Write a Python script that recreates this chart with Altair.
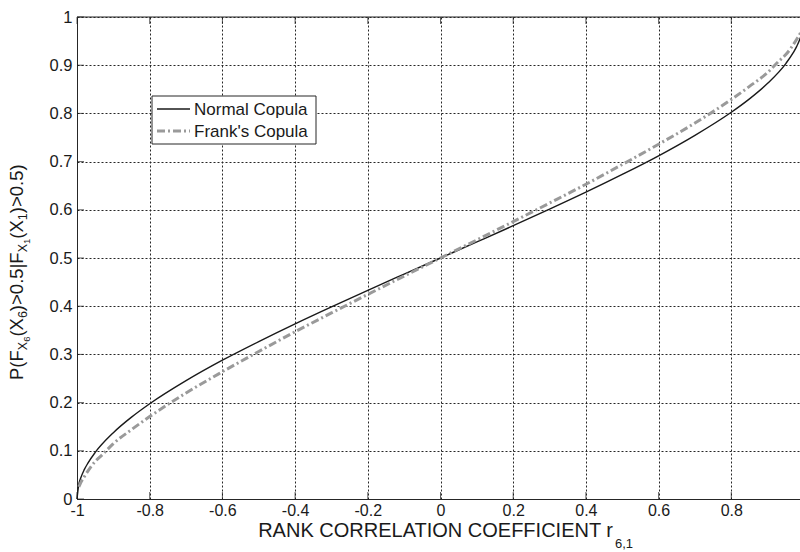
import altair as alt
import pandas as pd

# Axis tick values
x_ticks = [-1, -0.8, -0.6, -0.4, -0.2, 0, 0.2, 0.4, 0.6, 0.8, 1]
y_ticks = [0, 0.1, 0.2, 0.3, 0.4, 0.5, 0.6, 0.7, 0.8, 0.9, 1]

# Normal copula: rank correlation r(6,1) vs P(F(X6)>0.5 | F(X1)>0.5)
normal_r = [-1.0, -0.995, -0.99, -0.98, -0.97, -0.95, -0.9, -0.85, -0.8, -0.7, -0.6,
            -0.5, -0.4, -0.3, -0.2, -0.1, 0.0, 0.1, 0.2, 0.3, 0.4, 0.5, 0.6, 0.7,
            0.8, 0.85, 0.9, 0.95, 0.97, 0.98, 0.99, 0.995, 1.0]
normal_p = [0.0, 0.0303, 0.0431, 0.0609, 0.0745, 0.0966, 0.1376, 0.1698, 0.1976, 0.2455, 0.2880,
            0.3267, 0.3635, 0.3987, 0.4330, 0.4666, 0.5, 0.5334, 0.5670, 0.6013, 0.6365, 0.6733, 0.7120, 0.7545,
            0.8024, 0.8302, 0.8624, 0.9034, 0.9255, 0.9391, 0.9569, 0.9697, 1.0]

# Frank's copula
frank_r = [-0.995, -0.99, -0.98, -0.95, -0.93, -0.9, -0.85, -0.8, -0.7, -0.6, -0.5,
           -0.4, -0.3, -0.2, -0.1, 0.0, 0.1, 0.2, 0.3, 0.4, 0.5, 0.6, 0.7, 0.8,
           0.85, 0.9, 0.93, 0.95, 0.98, 0.99, 0.995]
frank_p = [0.025, 0.0335, 0.0462, 0.078, 0.0922, 0.115, 0.144, 0.171, 0.220, 0.264, 0.306,
           0.347, 0.386, 0.4245, 0.4625, 0.5, 0.5375, 0.5755, 0.614, 0.653, 0.694, 0.736, 0.780, 0.829,
           0.856, 0.885, 0.9078, 0.922, 0.9538, 0.9665, 0.975]

series_names = ["Normal Copula", "Frank's Copula"]

FONT = "Liberation Sans"
INK = "#1a1a1a"
FRANK_GRAY = "#9a9a9a"
W, H = 723, 482
X_RANGE = 727  # x scale runs a little past the right edge of the view

xs = alt.Scale(domain=[-1, 1], range=[0, X_RANGE], nice=False, zero=False)
ys = alt.Scale(domain=[0, 1], nice=False, zero=False)

x_axis = alt.Axis(values=x_ticks, labelExpr="datum.value + ''", grid=True, gridDash=[2, 2],
                  gridColor="#262626", gridWidth=1, tickSize=0, labelPadding=3,
                  labelFontSize=16, labelFont=FONT, labelColor=INK, domainColor="#262626",
                  title=None, labelFlush=False, labelOverlap=False)
y_axis = alt.Axis(values=y_ticks, labelExpr="datum.value + ''", grid=True, gridDash=[2, 2],
                  gridColor="#262626", gridWidth=1, tickSize=0, labelPadding=5,
                  labelFontSize=16.5, labelFont=FONT, labelColor=INK, domainColor="#262626",
                  title=None, labelFlush=False, labelOverlap=False)

def X(field):
    return alt.X(field, type="quantitative", scale=xs, axis=x_axis)

def Y(field):
    return alt.Y(field, type="quantitative", scale=ys, axis=y_axis)

def XD(v):
    return alt.XDatum(v, type="quantitative", scale=xs, axis=x_axis)

def YD(v):
    return alt.YDatum(v, type="quantitative", scale=ys, axis=y_axis)

normal_df = pd.DataFrame({"r": normal_r, "p": normal_p})
frank_df = pd.DataFrame({"r": frank_r, "p": frank_p})
xt_df = pd.DataFrame({"v": x_ticks})
yt_df = pd.DataFrame({"v": y_ticks})
one = pd.DataFrame({"k": [0]})

normal_line = alt.Chart(normal_df).mark_line(
    color=INK, strokeWidth=1.4, interpolate="monotone"
).encode(x=X("r"), y=Y("p"))

frank_line = alt.Chart(frank_df).mark_line(
    color=FRANK_GRAY, strokeWidth=3, strokeDash=[8, 3, 2, 3], interpolate="monotone"
).encode(x=X("r"), y=Y("p"))

# inward tick marks on the bottom, top and left edges
bottom_ticks = alt.Chart(xt_df).mark_tick(orient="vertical", size=7, thickness=1, yOffset=-3.5, color=INK).encode(
    x=X("v"), y=YD(0))
top_ticks = alt.Chart(xt_df).mark_tick(orient="vertical", size=7, thickness=1, yOffset=3.5, color=INK).encode(
    x=X("v"), y=YD(1))
left_ticks = alt.Chart(yt_df).mark_tick(orient="horizontal", size=7, thickness=1, xOffset=3.5, color=INK).encode(
    y=Y("v"), x=XD(-1))

top_border = alt.Chart(one).mark_rule(color="#262626", strokeWidth=1).encode(
    x=XD(-1), x2=alt.X2Datum(1), y=YD(1))

# legend box
legend_box = alt.Chart(one).mark_rect(fill="white", stroke="#262626", strokeWidth=1).encode(
    x=alt.value(75), x2=alt.value(239), y=alt.value(79), y2=alt.value(127))
legend_normal = alt.Chart(one).mark_rule(color=INK, strokeWidth=1.4).encode(
    x=alt.value(80), x2=alt.value(113), y=alt.value(92))
legend_frank = alt.Chart(one).mark_rule(color=FRANK_GRAY, strokeWidth=3, strokeDash=[8, 3, 2, 3]).encode(
    x=alt.value(80), x2=alt.value(113), y=alt.value(114))
legend_labels = [
    alt.Chart(one).mark_text(align="left", baseline="middle", font=FONT, fontSize=17, color=INK).encode(
        x=alt.value(117), y=alt.value(ypix), text=alt.value(name))
    for name, ypix in zip(series_names, [92.5, 114.5])
]

# x-axis title with subscript
x_title = alt.Chart(one).mark_text(align="right", baseline="alphabetic", font=FONT, fontSize=20, color=INK).encode(
    x=alt.value(536), y=alt.value(519.5), text=alt.value("RANK CORRELATION COEFFICIENT r"))
x_title_sub = alt.Chart(one).mark_text(align="left", baseline="alphabetic", font=FONT, fontSize=13, color=INK).encode(
    x=alt.value(538), y=alt.value(531), text=alt.value("6,1"))

# y-axis title, rotated, built from pieces with nested subscripts
ARIAL = {"P": 0.667, "(": 0.333, ")": 0.333, "F": 0.611, "X": 0.667, ">": 0.584,
         "0": 0.556, ".": 0.278, "5": 0.556, "|": 0.26, "6": 0.556, "1": 0.556}
LEVELS = {0: (18.5, -54.0), 1: (12.5, -50.0), 2: (9.5, -47.0)}
pieces = [("P(F", 0), ("X", 1), ("6", 2), ("(X", 0), ("6", 1), (")>0.5|F", 0),
          ("X", 1), ("1", 2), ("(X", 0), ("1", 1), (")>0.5)", 0)]
rows = []
pos = 363.0
for txt, lvl in pieces:
    size, bx = LEVELS[lvl]
    rows.append({"t": txt, "x": bx, "y": pos, "s": size})
    pos -= sum(ARIAL[c] for c in txt) * size
y_title_layers = [
    alt.Chart(one).mark_text(align="left", baseline="alphabetic", angle=270, font=FONT,
                             fontSize=row["s"], color=INK).encode(
        x=alt.value(row["x"]), y=alt.value(row["y"]), text=alt.value(row["t"]))
    for row in rows
]

chart = alt.layer(
    normal_line, frank_line, bottom_ticks, top_ticks, left_ticks, top_border,
    legend_box, legend_normal, legend_frank, *legend_labels, x_title, x_title_sub,
    *y_title_layers
).properties(
    width=W, height=H, autosize="none",
    padding={"left": 77, "top": 17, "right": 0, "bottom": 53},
    background="white"
).configure_view(stroke=None)

chart.save("out.html", embed_options={"renderer": "svg", "actions": False})
